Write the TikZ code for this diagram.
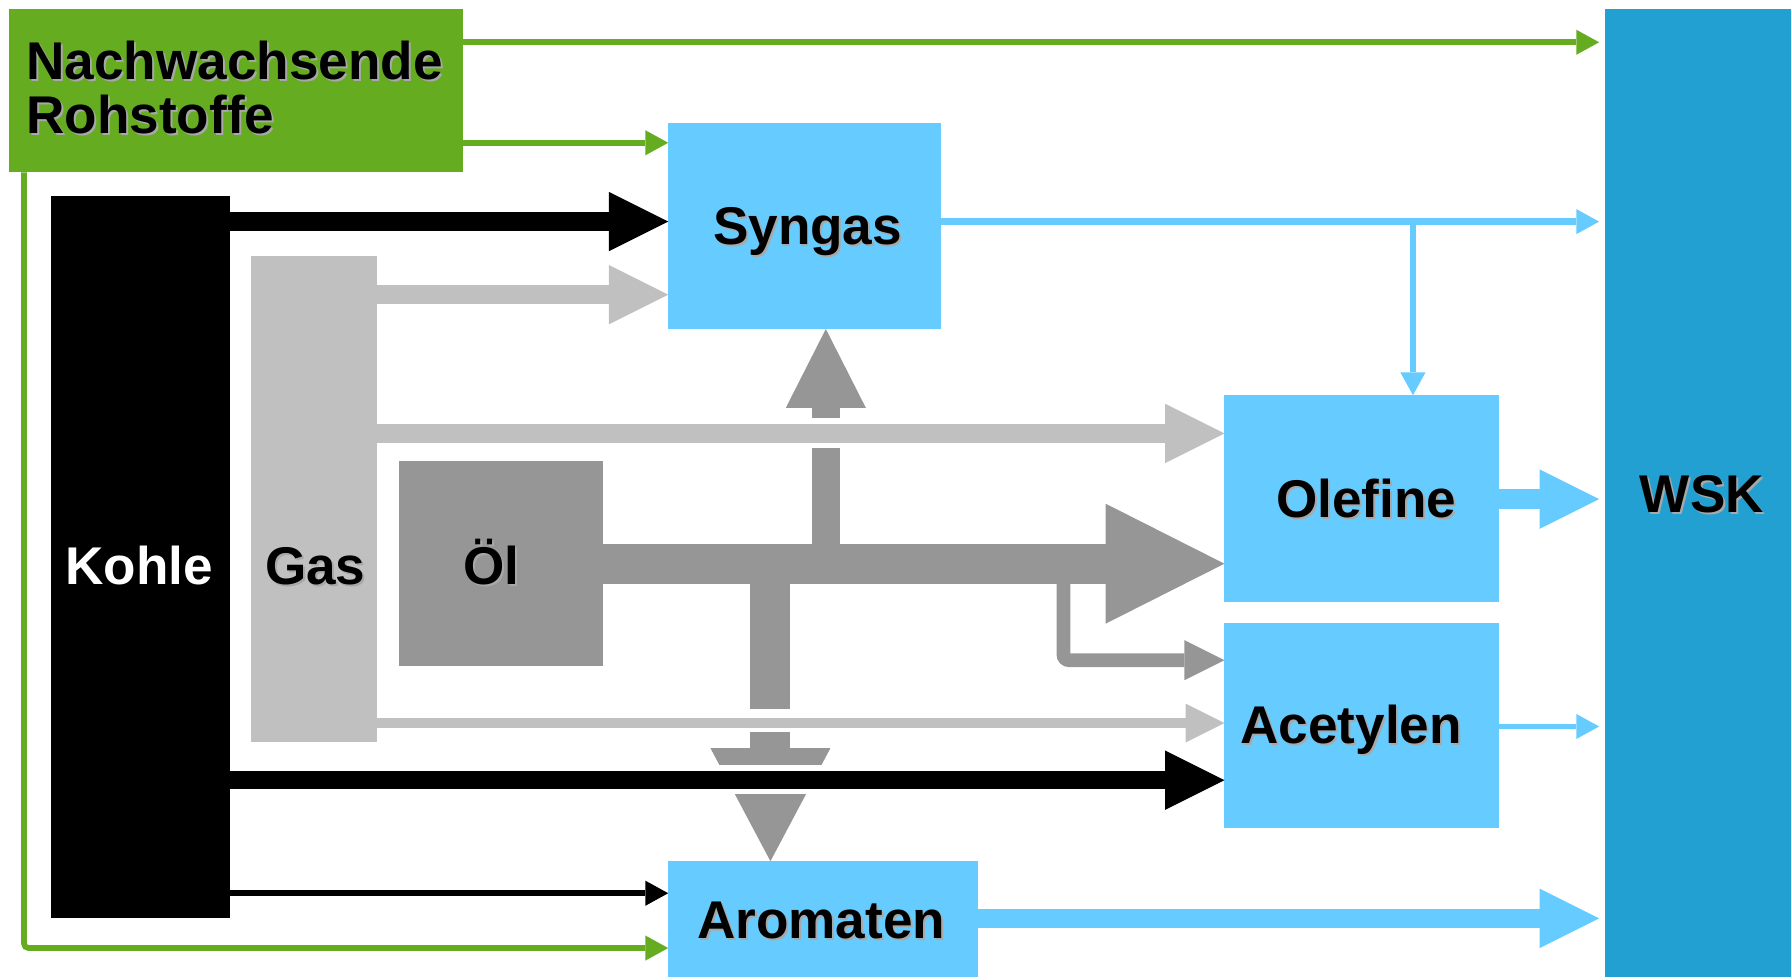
\documentclass[tikz,border=0pt]{standalone}
\usepackage{fontspec}
\setmainfont{Liberation Sans}
\usetikzlibrary{arrows.meta}
\definecolor{rgreen}{HTML}{66AC21}
\definecolor{lblue}{HTML}{66CCFF}
\definecolor{wskblue}{HTML}{22A0D2}
\definecolor{lgray}{HTML}{C0C0C0}
\definecolor{dgray}{HTML}{969696}
\definecolor{shade}{HTML}{A8A8A8}
% bold label with a soft grey drop shadow
\newcommand\shtext[1]{\rlap{\kern1.7pt\raisebox{-1.7pt}{\color{shade}#1}}#1}

\begin{document}
\begin{tikzpicture}[x=1pt,y=-1pt,
  panel/.style={rectangle, inner sep=0pt, outer sep=0pt, anchor=north west},
  lbl/.style={inner sep=0pt, anchor=base, font=\fontsize{46.5}{48}\selectfont\bfseries},
  fatarrow/.style={line width=17pt, -{Triangle[length=52pt,width=52pt,line width=0pt]}},
  midarrow/.style={line width=8pt, -{Triangle[length=34pt,width=34pt,line width=0pt]}},
  thinarrow/.style={line width=5pt, -{Triangle[length=20pt,width=22pt,line width=0pt]}},
  towsk/.style={shorten >=5pt}
]
\useasboundingbox (0,0) rectangle (1568,855);

% ---- boxes
\node[panel, fill=rgreen, minimum width=397pt, minimum height=143pt] (nr) at (8,8) {};
\node[panel, fill=black, minimum width=156pt, minimum height=632pt] (kohle) at (45,172) {};
\node[panel, fill=lgray, minimum width=110pt, minimum height=426pt] (gas) at (220,224) {};
\node[panel, fill=dgray, minimum width=179pt, minimum height=179pt] (oel) at (349,404) {};
\node[panel, fill=lblue, minimum width=239pt, minimum height=180pt] (syn) at (585,108) {};
\node[panel, fill=lblue, minimum width=240pt, minimum height=181pt] (ole) at (1072,346) {};
\node[panel, fill=lblue, minimum width=240pt, minimum height=180pt] (acet) at (1072,545) {};
\node[panel, fill=lblue, minimum width=271pt, minimum height=101pt] (arom) at (585,754) {};
\node[panel, fill=wskblue, minimum width=163pt, minimum height=847pt] (wsk) at (1405,8) {};

% ---- labels
\node[lbl, anchor=base west] (tnr1) at (23,70) {\shtext{Nachwachsende}};
\node[lbl, anchor=base west] (tnr2) at (23,117) {\shtext{Rohstoffe}};
\node[lbl, text=white] (tkohle) at (122,512) {Kohle};
\node[lbl] (tgas) at (276,512) {\shtext{Gas}};
\node[lbl] (toel) at (430,512) {\shtext{Öl}};
\node[lbl] (tsyn) at (707,214) {\shtext{Syngas}};
\node[lbl] (tole) at (1196,453) {\shtext{Olefine}};
\node[lbl] (tacet) at (1183,651) {\shtext{Acetylen}};
\node[lbl] (tarom) at (719,822) {\shtext{Aromaten}};
\node[lbl] (twsk) at (1490,449) {\shtext{WSK}};

% ---- oil streams
\draw[dgray, line width=35pt, -{Triangle[length=104pt,width=105pt,line width=0pt]}]
  (oel.east |- 0,493.5) -- ([yshift=-57pt]ole.west);
\draw[dgray, line width=24pt, -{Triangle[length=69pt,width=70pt,line width=0pt]}]
  (723,493) -- (syn.south -| 723,0);
\draw[dgray, line width=35pt, -{Triangle[length=99pt,width=105pt,line width=0pt]}]
  (674.5,493) -- (arom.north -| 674.5,0);
\draw[dgray, line width=12pt, rounded corners=5pt, -{Triangle[length=35pt,width=35pt,line width=0pt]}]
  (931,500) |- ([yshift=57pt]acet.west);

% white gaps where other streams cross the oil branches
\fill[white] (700,366) rectangle (750,392);
\fill[white] (640,621) rectangle (710,641);
\fill[white] (600,670) rectangle (760,695);

% ---- gas streams
\draw[lgray, fatarrow] (gas.east |- 0,258) -- (syn.west |- 0,258);
\draw[lgray, fatarrow] (gas.east |- 0,379.5) -- (ole.west |- 0,379.5);
\draw[lgray, midarrow] (gas.east |- 0,633) -- (acet.west |- 0,633);

% ---- coal streams
\draw[black, fatarrow, line width=16pt] (kohle.east |- 0,194) -- (syn.west |- 0,194);
\draw[black, fatarrow, line width=16pt] (kohle.east |- 0,683) -- (acet.west |- 0,683);
\draw[black, thinarrow] (kohle.east |- 0,782) -- (arom.west |- 0,782);

% ---- renewable streams
\draw[rgreen, thinarrow, towsk] (nr.east |- 0,37) -- (wsk.west |- 0,37);
\draw[rgreen, thinarrow] (nr.east |- 0,125) -- (syn.west |- 0,125);
\draw[rgreen, thinarrow, rounded corners=4pt] (nr.south -| 21,0) |- (arom.west |- 0,830);

% ---- products to WSK
\coordinate (synbr) at (1237,194);
\draw[lblue, thinarrow, line width=6pt, towsk] (syn.east |- 0,194) -- (wsk.west |- 0,194);
\draw[lblue, thinarrow, line width=6pt] (synbr) -- (ole.north -| synbr);
\draw[lblue, fatarrow, towsk] (ole.east |- 0,437) -- (wsk.west |- 0,437);
\draw[lblue, thinarrow, towsk] (acet.east |- 0,636) -- (wsk.west |- 0,636);
\draw[lblue, fatarrow, towsk] (arom.east |- 0,804) -- (wsk.west |- 0,804);
\end{tikzpicture}
\end{document}
